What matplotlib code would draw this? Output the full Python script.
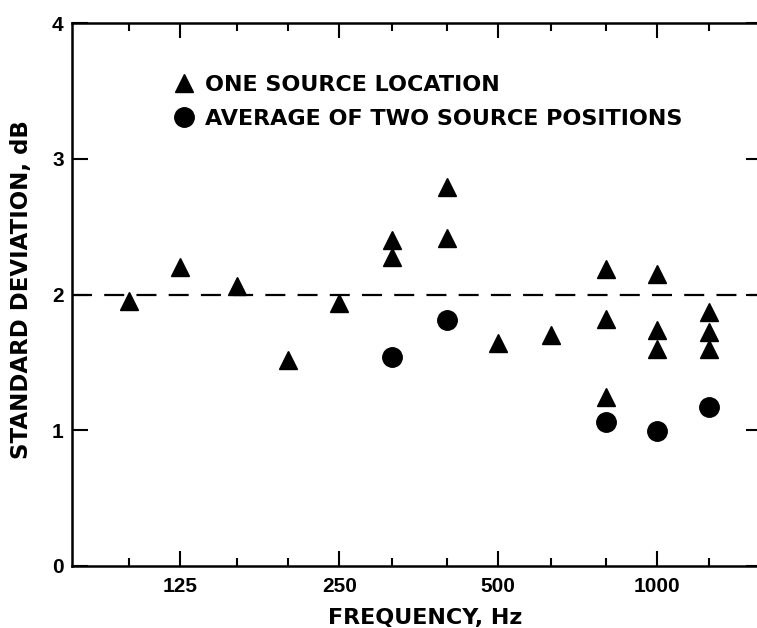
import matplotlib.pyplot as plt
from matplotlib.ticker import FixedLocator, NullFormatter

# one source location (triangles)
tri_freq = [100, 125, 160, 200, 250, 315, 315, 400, 400, 500, 630,
            800, 800, 800, 1000, 1000, 1000, 1250, 1250, 1250]
tri_sd = [1.95, 2.20, 2.06, 1.52, 1.94, 2.40, 2.28, 2.79, 2.42, 1.64, 1.70,
          2.19, 1.82, 1.24, 2.15, 1.74, 1.60, 1.87, 1.72, 1.60]

# average of two source positions (circles)
circ_freq = [315, 400, 800, 1000, 1250]
circ_sd = [1.54, 1.81, 1.06, 0.99, 1.17]

major_freq = [125, 250, 500, 1000]
minor_freq = [100, 160, 200, 315, 400, 630, 800, 1250]
ref_level = 2.0

tick_font = {'family': 'Liberation Sans', 'weight': 'bold', 'size': 15}

fig = plt.figure(figsize=(7.57, 6.28), dpi=100)
ax = fig.add_axes([0.0951, 0.0995, 0.912, 0.8631])

ax.axhline(ref_level, color='black', lw=1.6, dashes=(9, 5.5), zorder=1)
ax.plot(tri_freq, tri_sd, '^', color='black', markersize=13, ls='none',
        label='ONE SOURCE LOCATION', zorder=3)
ax.plot(circ_freq, circ_sd, 'o', color='black', markersize=14, ls='none',
        label='AVERAGE OF TWO SOURCE POSITIONS', zorder=3)

ax.set_xscale('log')
ax.set_xlim(78, 1580)
ax.set_ylim(0, 4)

ax.xaxis.set_major_locator(FixedLocator(major_freq))
ax.xaxis.set_minor_locator(FixedLocator(minor_freq))
ax.xaxis.set_minor_formatter(NullFormatter())
ax.set_xticks(major_freq)
ax.set_xticklabels([str(f) for f in major_freq], fontdict=tick_font)
ax.set_yticks([0, 1, 2, 3, 4])
ax.set_yticklabels(['0', '1', '2', '3', '4'], fontdict=tick_font)

ax.tick_params(axis='x', which='major', direction='in', length=11, width=1.5,
               top=True, pad=8)
ax.tick_params(axis='x', which='minor', direction='in', length=6, width=1.5,
               top=True)
ax.tick_params(axis='y', which='major', direction='in', length=11.5, width=1.5,
               right=True, pad=6)

for s in ax.spines.values():
    s.set_linewidth(1.8)

ax.set_xlabel('FREQUENCY, Hz', fontsize=16, fontweight='bold')
ax.set_ylabel('STANDARD DEVIATION, dB', fontsize=16.5, fontweight='bold')
ax.xaxis.set_label_coords(0.512, -0.0784)
ax.yaxis.set_label_coords(-0.0568, 0.51)

leg = ax.legend(loc='upper left', bbox_to_anchor=(0.1166, 0.942), frameon=False,
                handlelength=1.0, handletextpad=0.45, labelspacing=0.62,
                borderpad=0.4, prop={'weight': 'bold', 'size': 16})

fig.savefig('out.png', dpi=100)
